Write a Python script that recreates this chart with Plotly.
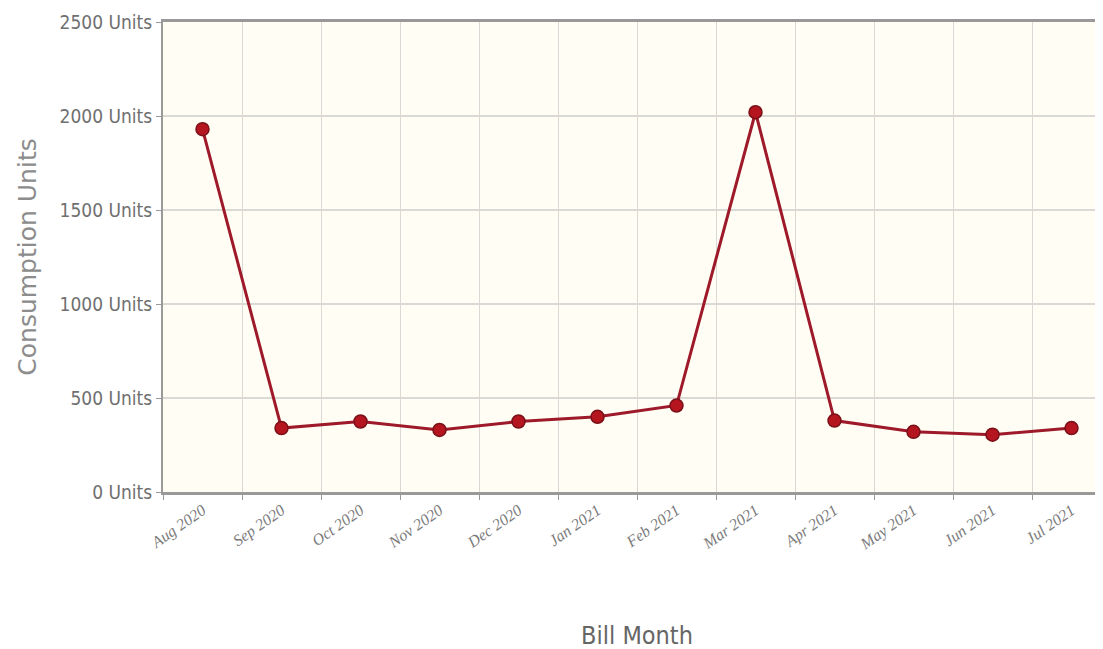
import plotly.graph_objects as go

months = ["Aug 2020", "Sep 2020", "Oct 2020", "Nov 2020", "Dec 2020", "Jan 2021",
          "Feb 2021", "Mar 2021", "Apr 2021", "May 2021", "Jun 2021", "Jul 2021"]
units = [1930, 340, 375, 330, 375, 400, 460, 2020, 380, 320, 305, 340]
y_ticks = [0, 500, 1000, 1500, 2000, 2500]
y_tick_text = [f"{v} Units" for v in y_ticks]

fig = go.Figure()
fig.add_trace(go.Scatter(
    x=months, y=units, mode="lines+markers",
    line=dict(color="#9e1a2a", width=3),
    marker=dict(size=13, color="#b5151f", line=dict(color="#7a1018", width=1.5)),
    showlegend=False,
))

fig.update_layout(
    width=1103, height=649,
    margin=dict(l=155, r=0, t=14, b=165),
    paper_bgcolor="white",
    plot_bgcolor="#fffdf4",
    xaxis=dict(
        type="category",
        tickson="boundaries",
        range=[-0.5, 11.5],
        showgrid=True, gridcolor="#d9d9d6", gridwidth=1,
        ticks="outside", ticklen=5, tickcolor="#999999",
        showline=True, linecolor="#999999", linewidth=3, mirror=True,
        tickangle=-35,
        tickfont=dict(family="Liberation Serif, serif", size=16, color="#7a7a7a", style="italic"),
        title=dict(text="Bill Month", font=dict(family="DejaVu Sans Condensed, sans-serif", size=25, color="#666666"), standoff=74),
    ),
    yaxis=dict(
        range=[0, 2500],
        tickvals=y_ticks, ticktext=y_tick_text,
        showgrid=True, gridcolor="#d9d9d6", gridwidth=1.5,
        ticks="outside", ticklen=5, tickcolor="#999999",
        showline=True, linecolor="#9a9a9a", linewidth=2,
        zeroline=False,
        tickfont=dict(family="DejaVu Sans Condensed, sans-serif", size=19, color="#707070"),
        title=dict(text="Consumption Units", font=dict(family="DejaVu Sans, sans-serif", size=25, color="#8c8c8c"), standoff=16),
    ),
)

fig.write_html("out.html")
